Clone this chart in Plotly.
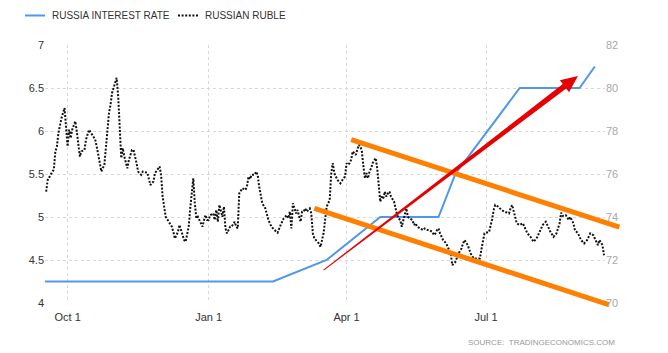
import plotly.graph_objects as go
import pandas as pd
import numpy as np

# ---------------- data ----------------
BASE_DATE = "2020-10-01"   # day 0 of the ruble day offsets

RUBLE_DAY = [
    -14, -13, -10, -9, -8, -7, -6, -4, -2, -1,
    0, 1, 2, 3, 5, 6, 8, 9, 11, 12,
    14, 16, 18, 19, 21, 22, 24, 26, 27, 28,
    29, 31, 32, 33, 34, 35, 36, 37, 39, 40,
    42, 43, 45, 46, 48, 49, 52, 54, 56, 57,
    60, 61, 62, 64, 66, 68, 69, 70, 72, 73,
    75, 76, 77, 79, 80, 81, 82, 83, 84, 85,
    88, 89, 90, 91, 92, 93, 95, 96, 97, 98,
    99, 101, 102, 103, 104, 106, 107, 109, 110, 111,
    112, 114, 116, 117, 118, 119, 120, 122, 123, 124,
    125, 127, 129, 131, 133, 135, 137, 139, 141, 143,
    144, 145, 146, 147, 148, 149, 150, 151, 152, 153,
    154, 155, 156, 158, 159, 160, 161, 164, 165, 167,
    168, 169, 171, 172, 173, 174, 176, 178, 180, 181,
    182, 183, 184, 185, 186, 188, 189, 190, 191, 192,
    193, 194, 195, 196, 197, 198, 199, 201, 202, 203,
    204, 205, 206, 207, 208, 209, 210, 211, 213, 214,
    215, 216, 217, 218, 219, 220, 221, 222, 223, 225,
    226, 227, 228, 230, 232, 233, 235, 236, 238, 239,
    240, 241, 242, 243, 244, 245, 247, 250, 251, 253,
    255, 257, 258, 259, 261, 263, 265, 267, 269, 270,
    271, 272, 275, 276, 277, 278, 279, 281, 283, 285,
    288, 289, 290, 292, 293, 295, 297, 298, 300, 302,
    304, 306, 308, 310, 312, 313, 315, 317, 319, 321,
    322, 323, 325, 327, 328, 330, 331, 333, 335, 337,
    339, 341, 343, 344, 346, 347, 349, 350,
]
RUBLE_VALUE = [
    75.18, 75.72, 76.1, 76.2, 77.05, 77.28, 77.9, 78.6, 79.07, 78.2,
    77.28, 78.06, 77.67, 78.06, 78.45, 77.98, 76.81, 77.05, 77.12, 77.6,
    78.06, 77.83, 77.6, 77.28, 76.43, 76.12, 76.43, 78.06, 78.84, 79.22,
    79.77, 80.24, 80.47, 79.61, 78.06, 76.74, 77.2, 76.81, 76.27, 76.66,
    77.12, 77.12, 76.5, 76.11, 75.96, 76.11, 76.06, 75.49, 75.65, 76.04,
    76.35, 75.96, 74.95, 74.01, 73.78, 73.55, 73.31, 73.0, 73.31, 73.63,
    73.16, 72.93, 72.85, 73.55, 74.4, 75.26, 75.8, 74.64, 73.94, 74.01,
    73.55, 73.86, 74.09, 73.86, 73.86, 74.09, 74.17, 73.86, 74.33, 73.78,
    74.56, 74.01, 74.48, 73.47, 73.24, 73.55, 73.55, 73.78, 73.55, 73.47,
    75.1, 75.34, 75.26, 75.41, 75.88, 75.76, 75.96, 75.96, 76.11, 75.96,
    75.41, 74.64, 74.4, 73.86, 73.55, 73.39, 73.27, 73.63, 73.94, 74.09,
    73.94, 74.25, 73.47, 74.64, 74.33, 74.17, 74.33, 74.01, 73.78, 74.25,
    74.25, 74.4, 74.25, 74.4, 74.17, 73.24, 73.0, 72.77, 72.61, 73.24,
    74.01, 74.48, 74.79, 76.04, 76.5, 76.04, 75.73, 75.57, 75.8, 75.88,
    76.5, 76.43, 76.5, 76.66, 77.05, 76.89, 77.12, 77.36, 77.28, 77.05,
    76.35, 75.8, 76.04, 75.8, 76.12, 76.27, 76.5, 76.74, 76.27, 75.26,
    74.71, 74.95, 74.87, 75.18, 74.95, 75.1, 75.18, 74.95, 74.71, 74.4,
    74.09, 73.94, 73.86, 73.55, 73.86, 74.17, 74.4, 74.01, 73.94, 73.86,
    73.63, 73.71, 73.55, 73.47, 73.39, 73.47, 73.39, 73.39, 73.31, 73.16,
    73.24, 73.39, 73.47, 73.24, 73.08, 72.93, 72.77, 72.3, 71.76, 71.91,
    72.3, 72.54, 72.77, 72.93, 72.7, 72.3, 72.07, 72.07, 72.07, 72.5,
    72.93, 73.24, 73.31, 73.55, 73.9, 74.33, 74.56, 74.48, 74.33, 74.25,
    74.17, 74.4, 74.56, 74.01, 73.71, 73.63, 73.71, 73.55, 73.24, 73.08,
    72.85, 73.0, 73.31, 73.63, 73.78, 73.6, 73.31, 73.08, 73.24, 73.71,
    74.2, 74.05, 74.09, 73.86, 74.0, 73.71, 73.39, 73.24, 72.93, 72.77,
    72.93, 73.24, 73.15, 73.0, 72.69, 72.93, 72.69, 72.22,
]

RATE_DATE = ["2020-09-16", "2021-02-12", "2021-03-19", "2021-04-23", "2021-05-31",
             "2021-06-11", "2021-07-23", "2021-08-31", "2021-09-10"]
RATE_VALUE = [4.25, 4.25, 4.5, 5.0, 5.0, 5.5, 6.5, 6.5, 6.75]

SERIES_NAMES = ["RUSSIA INTEREST RATE", "RUSSIAN RUBLE"]
X_TICK_DATE = ["2020-10-01", "2021-01-01", "2021-04-01", "2021-07-01"]
X_TICK_TEXT = ["Oct 1", "Jan 1", "Apr 1", "Jul 1"]
LEFT_TICKS = [4, 4.5, 5, 5.5, 6, 6.5, 7]
RIGHT_TICKS = [70, 72, 74, 76, 78, 80, 82]

# hand-drawn annotations (date, ruble value)
UPPER_CHANNEL_DATE = ["2021-04-04", "2021-09-26"]
UPPER_CHANNEL_VALUE = [77.6, 73.53]
LOWER_CHANNEL_DATE = ["2021-03-11", "2021-09-19"]
LOWER_CHANNEL_VALUE = [74.4, 69.93]
ARROW_DATE = ["2021-03-17", "2021-08-30"]
ARROW_VALUE = [71.53, 80.56]

# ---------------- layout constants ----------------
W, H = 668, 353
M_L, M_R, M_T, M_B = 45, 63, 45, 50
PW, PH = W - M_L - M_R, H - M_T - M_B
X_RANGE = ["2020-09-16 06:00", "2021-09-16 15:00"]
Y_RANGE = [4, 7]
Y2_RANGE = [70, 82]
BLUE = "#4f97ea"
BLACK = "#111111"
DOT = "2px,1.6px"
ORANGE = "#ff7f00"
RED = "#e60000"

t0, t1 = pd.Timestamp(X_RANGE[0]), pd.Timestamp(X_RANGE[1])


def fx(d):
    return (pd.Timestamp(d) - t0) / (t1 - t0)


def fy(v):
    return (v - Y2_RANGE[0]) / (Y2_RANGE[1] - Y2_RANGE[0])


def px_x(p):   # pixel -> paper x
    return (p - M_L) / PW


def px_y(p):   # pixel (from top) -> paper y
    return (H - M_B - p) / PH


base = pd.Timestamp(BASE_DATE)
ruble_dates = [base + pd.Timedelta(days=d) for d in RUBLE_DAY]

fig = go.Figure()
fig.add_trace(go.Scatter(
    x=pd.to_datetime(RATE_DATE), y=RATE_VALUE, name=SERIES_NAMES[0],
    mode="lines", line=dict(color=BLUE, width=2), yaxis="y"))
fig.add_trace(go.Scatter(
    x=ruble_dates, y=RUBLE_VALUE, name=SERIES_NAMES[1],
    mode="lines", line=dict(color=BLACK, width=2, dash=DOT), yaxis="y2"))

shapes = []
for dts, vals in [(UPPER_CHANNEL_DATE, UPPER_CHANNEL_VALUE), (LOWER_CHANNEL_DATE, LOWER_CHANNEL_VALUE)]:
    shapes.append(dict(type="line", xref="x domain", yref="y2 domain",
                       x0=fx(dts[0]), y0=fy(vals[0]), x1=fx(dts[1]), y1=fy(vals[1]),
                       line=dict(color=ORANGE, width=5), layer="above"))

# tapered red arrow, built in pixel space then expressed as domain fractions
p0 = np.array([fx(ARROW_DATE[0]) * PW, fy(ARROW_VALUE[0]) * PH])
p1 = np.array([fx(ARROW_DATE[1]) * PW, fy(ARROW_VALUE[1]) * PH])
u = (p1 - p0) / np.linalg.norm(p1 - p0)
n = np.array([-u[1], u[0]])
head_len, head_half = 17.0, 7.5
h0, h1 = 0.5, 2.8
b = p1 - u * head_len
pts = [p0 + n * h0, b + n * h1, b + n * head_half, p1, b - n * head_half, b - n * h1, p0 - n * h0]
path = "M " + " L ".join(f"{p[0] / PW:.5f},{p[1] / PH:.5f}" for p in pts) + " Z"
shapes.append(dict(type="path", xref="x domain", yref="y2 domain", path=path,
                   fillcolor=RED, line=dict(width=0), layer="above"))

# custom legend (top-left, outside plot so it must not push margins)
LEG_Y = 15.5
legend_items = [(25, 45, 50, SERIES_NAMES[0], dict(color=BLUE, width=2)),
                (178, 198, 203, SERIES_NAMES[1], dict(color=BLACK, width=2, dash=DOT))]
annotations = []
for xa, xb, xt, label, ln in legend_items:
    shapes.append(dict(type="line", xref="paper", yref="paper",
                       x0=px_x(xa), x1=px_x(xb), y0=px_y(LEG_Y), y1=px_y(LEG_Y), line=ln))
    annotations.append(dict(text=label, xref="paper", yref="paper", x=px_x(xt), y=px_y(LEG_Y),
                            xanchor="left", yanchor="middle", showarrow=False,
                            font=dict(size=10, color="#333333")))

annotations.append(dict(text="SOURCE:  TRADINGECONOMICS.COM", xref="paper", yref="paper",
                        x=px_x(617), y=px_y(342), xanchor="right", yanchor="middle",
                        showarrow=False, font=dict(size=8, color="#999999")))

FONT = "Liberation Sans, Arial, sans-serif"
fig.update_layout(
    width=W, height=H,
    margin=dict(l=M_L, r=M_R, t=M_T, b=M_B, pad=0, autoexpand=False),
    paper_bgcolor="white", plot_bgcolor="white",
    font=dict(family=FONT, size=11, color="#333333"),
    showlegend=False,
    xaxis=dict(type="date", range=X_RANGE, tickvals=X_TICK_DATE, ticktext=X_TICK_TEXT,
               showgrid=True, gridcolor="#d8d8d8", griddash="dot", gridwidth=1,
               zeroline=False, showline=False, ticks="", ticklabelstandoff=6,
               tickfont=dict(size=11, color="#333333")),
    yaxis=dict(range=Y_RANGE, tickvals=LEFT_TICKS, showgrid=True, gridcolor="#d8d8d8",
               griddash="dot", zeroline=False, showline=False, ticks="",
               tickfont=dict(size=11, color="#333333")),
    yaxis2=dict(range=Y2_RANGE, tickvals=RIGHT_TICKS, overlaying="y", side="right",
                showgrid=False, zeroline=False, showline=False, ticks="",
                tickfont=dict(size=11, color="#a8a8a8")),
    shapes=shapes,
    annotations=annotations,
)

fig.write_html("out.html")
